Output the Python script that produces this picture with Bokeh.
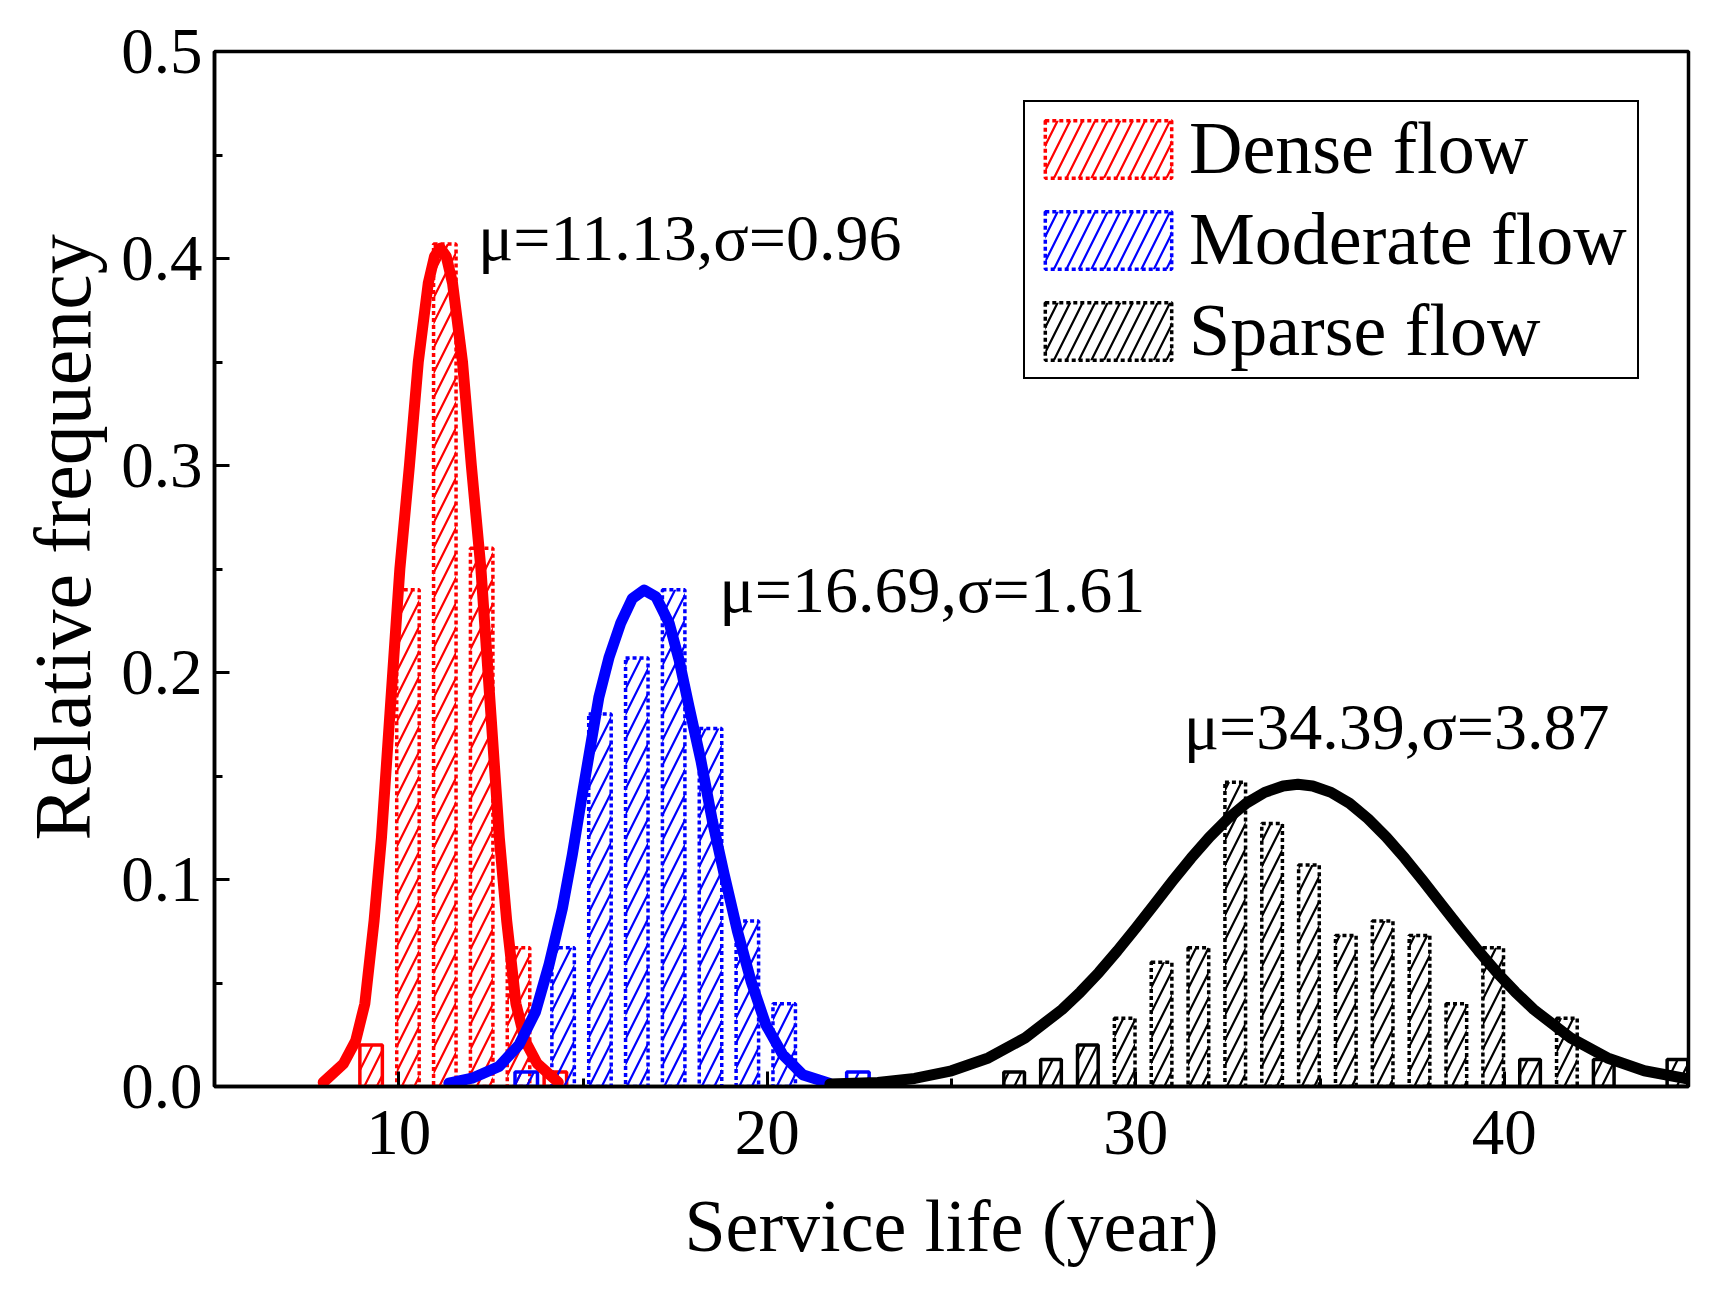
from bokeh.plotting import figure
from bokeh.models import (Range1d, SingleIntervalTicker, NumeralTickFormatter,
                          Label, Legend, LegendItem, Title)
from bokeh.embed import file_html
from bokeh.resources import INLINE

FONT = "Liberation Serif"

# histogram bins: bin centre (year) and relative frequency
dense_x = [9.25, 10.25, 11.25, 12.25, 13.25, 14.25]
dense_freq = [0.020, 0.240, 0.407, 0.260, 0.067, 0.007]

moderate_x = [13.46, 14.46, 15.46, 16.46, 17.46, 18.46, 19.46, 20.46, 21.46, 22.46]
moderate_freq = [0.007, 0.067, 0.180, 0.207, 0.240, 0.173, 0.080, 0.040, 0.0, 0.007]

sparse_x = [26.7, 27.7, 28.7, 29.7, 30.7, 31.7, 32.7, 33.7, 34.7, 35.7,
            36.7, 37.7, 38.7, 39.7, 40.7, 41.7, 42.7, 43.7, 44.7]
sparse_freq = [0.007, 0.013, 0.020, 0.033, 0.060, 0.067, 0.147, 0.127, 0.107, 0.073,
               0.080, 0.073, 0.040, 0.067, 0.013, 0.033, 0.013, 0.0, 0.013]

# fitted curves
dense_fit_x = [7.95, 8.50, 8.83, 9.08, 9.33, 9.53, 9.76, 10.03, 10.29, 10.53, 10.80, 10.97,
               11.13, 11.29, 11.46, 11.73, 11.97, 12.23, 12.50, 12.73, 12.93, 13.18,
               13.43, 13.76, 14.33]
dense_fit_y = [0.002, 0.011, 0.022, 0.040, 0.080, 0.120, 0.180, 0.250, 0.300, 0.350, 0.388,
               0.401, 0.405, 0.401, 0.388, 0.350, 0.300, 0.250, 0.180, 0.120, 0.080, 0.040,
               0.022, 0.011, 0.002]

moderate_fit_x = [11.36, 11.99, 12.72, 13.26, 13.71, 14.08, 14.44, 14.71, 14.98, 15.21,
                  15.43, 15.71, 16.02, 16.34, 16.66, 16.98, 17.34, 17.61, 17.88, 18.20,
                  18.51, 18.83, 19.19, 19.56, 19.96, 20.42, 20.96, 21.68]
moderate_fit_y = [0.0016, 0.004, 0.0097, 0.020, 0.036, 0.059, 0.086, 0.112, 0.141, 0.165,
                  0.188, 0.2075, 0.2237, 0.2358, 0.2398, 0.2366, 0.2237, 0.2059, 0.1833,
                  0.1575, 0.1284, 0.1026, 0.0751, 0.0509, 0.0299, 0.0154, 0.0057, 0.0016]

sparse_fit_x = [21.7, 23.0, 24.0, 25.0, 26.0, 27.0, 28.0, 28.5, 29.0, 29.5, 30.0, 30.5,
                31.0, 31.5, 32.0, 32.5, 33.0, 33.5, 34.0, 34.4, 34.8, 35.3, 35.8, 36.3,
                36.8, 37.3, 37.8, 38.3, 38.8, 39.3, 39.8, 40.3, 40.8, 41.8, 42.8, 43.8, 45.0]
sparse_fit_y = [0.0012, 0.0019, 0.0039, 0.0076, 0.0138, 0.0235, 0.0372, 0.0457, 0.0551,
                0.0655, 0.0765, 0.0879, 0.0993, 0.1103, 0.1205, 0.1294, 0.1368, 0.1421,
                0.1452, 0.1460, 0.1452, 0.1421, 0.1368, 0.1294, 0.1205, 0.1103, 0.0993,
                0.0879, 0.0765, 0.0655, 0.0551, 0.0457, 0.0372, 0.0235, 0.0138, 0.0076,
                0.0036]

labels = ["Dense flow", "Moderate flow", "Sparse flow"]
fit_texts = ["\u03bc=11.13,\u03c3=0.96", "\u03bc=16.69,\u03c3=1.61", "\u03bc=34.39,\u03c3=3.87"]


p = figure(
    frame_width=1474,
    frame_height=1035,
    min_border_left=214,
    min_border_right=14,
    min_border_top=51,
    min_border_bottom=196,
    x_range=Range1d(5, 45),
    y_range=Range1d(0, 0.5),
    x_axis_label="Service life (year)",
    output_backend="svg",
    toolbar_location=None,
)
p.grid.visible = False
p.outline_line_color = "black"
p.outline_line_width = 3.5
p.outline_line_alpha = 1

p.xaxis.ticker = SingleIntervalTicker(interval=10, num_minor_ticks=2)
p.yaxis.ticker = SingleIntervalTicker(interval=0.1, num_minor_ticks=2)
p.yaxis.formatter = NumeralTickFormatter(format="0.0")
for ax in p.axis:
    ax.axis_line_width = 3.5
    ax.major_tick_line_width = 3
    ax.minor_tick_line_width = 3
    ax.major_tick_in = 15
    ax.major_tick_out = 0
    ax.minor_tick_in = 8
    ax.minor_tick_out = 0
    ax.major_label_text_font = FONT
    ax.major_label_text_font_size = "65px"
    ax.major_label_text_color = "black"
    ax.axis_label_text_font = FONT
    ax.axis_label_text_font_size = "74px"
    ax.axis_label_text_font_style = "normal"
    ax.axis_label_text_color = "black"
p.xaxis.major_label_standoff = 24
p.yaxis.major_label_standoff = 12
p.xaxis.axis_label_standoff = 28

# y axis title as a side title, so it can be nudged up like the original
p.add_layout(Title(text="Relative frequency", align="left", offset=246,
                   text_font=FONT, text_font_size="80px", text_font_style="normal",
                   text_color="black", standoff=23), "left")


def hist(xs, freqs, width, color):
    style = dict(width=width, bottom=0, fill_color="white", fill_alpha=0,
                 line_color=color, line_width=3.5, hatch_pattern="/",
                 hatch_color=color, hatch_scale=25, hatch_weight=2.2)
    tall = [(x, f) for x, f in zip(xs, freqs) if f >= 0.025]
    short = [(x, f) for x, f in zip(xs, freqs) if 0 < f < 0.025]
    r = p.vbar(x=[t[0] for t in tall], top=[t[1] for t in tall], line_dash="4 3", **style)
    p.vbar(x=[s[0] for s in short], top=[s[1] for s in short], **style)
    return r


r_dense = hist(dense_x, dense_freq, 0.61, "#ff0000")
r_moderate = hist(moderate_x, moderate_freq, 0.61, "#0000ff")
r_sparse = hist(sparse_x, sparse_freq, 0.56, "black")

for xs, ys, color in [(dense_fit_x, dense_fit_y, "#ff0000"),
                      (moderate_fit_x, moderate_fit_y, "#0000ff"),
                      (sparse_fit_x, sparse_fit_y, "black")]:
    p.line(xs, ys, line_color=color, line_width=11, line_cap="round", line_join="round")

for (tx, ty), txt in zip([(12.15, 0.41), (18.7, 0.24), (31.3, 0.174)], fit_texts):
    p.add_layout(Label(x=tx, y=ty, text=txt, text_font=FONT, text_font_size="66px",
                       text_color="black", text_baseline="alphabetic"))

legend = Legend(
    items=[LegendItem(label=lab, renderers=[r])
           for lab, r in zip(labels, [r_dense, r_moderate, r_sparse])],
    location="top_right",
    margin=49,
    padding=4,
    spacing=6,
    glyph_width=158,
    glyph_height=72,
    label_standoff=2,
    label_width=444,
    label_text_font=FONT,
    label_text_font_size="74px",
    label_text_color="black",
    border_line_color="black",
    border_line_alpha=1,
    border_line_width=2,
    background_fill_alpha=1,
)
p.add_layout(legend)

open("out.html", "w").write(file_html(p, INLINE))
